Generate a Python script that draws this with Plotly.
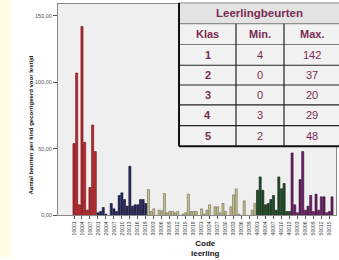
import plotly.graph_objects as go

W, H = 339, 260

klas1 = [54, 107, 8, 142, 55, 4, 21, 68, 48]
klas2 = [2, 3, 6, 1, 0, 9, 5, 3, 15, 17, 12, 7, 37, 7, 8, 8, 12, 12, 9]
klas3 = [19.5, 3, 5, 0, 4, 3.5, 16.5, 2, 3, 3, 2, 3, 0, 1, 2, 16, 3, 3, 3, 0, 5, 1, 4, 8, 0,
         6.5, 6.5, 2, 9, 3, 0, 6.5, 15.5, 20, 1, 0, 11, 0, 0, 4, 9]
klas4 = [19, 29, 19, 8, 9, 12, 15, 4, 29, 20, 24, 3, 3]
klas5 = [47, 8, 2, 27, 48, 4, 7, 15, 3, 16, 4, 14, 14, 2, 3, 14]

series = [klas1, klas2, klas3, klas4, klas5]
fills = ["#c9262c", "#25265e", "#c7c196", "#1e4a26", "#6b1f65"]
lines = ["#5a0e10", "#10102e", "#6d6a48", "#0c2410", "#350c32"]

table_header = ["Klas", "Min.", "Max."]
table_rows = [["1", "4", "142"], ["2", "0", "37"], ["3", "0", "20"], ["4", "3", "29"], ["5", "2", "48"]]
table_title = "Leerlingbeurten"

codes = []
for k, s in enumerate(series):
    for i in range(len(s)):
        codes.append(f"{k+1}{i+1:04d}")

fig = go.Figure()
idx = 0
for s, fc, lc in zip(series, fills, lines):
    xs = list(range(idx, idx + len(s)))
    fig.add_trace(go.Bar(x=xs, y=s, marker=dict(color=fc, line=dict(color=lc, width=0.6)),
                         width=0.78, showlegend=False, hoverinfo="skip"))
    idx += len(s)
n = idx

tickvals = list(range(0, n, 3))
ticktext = [codes[i] for i in tickvals]

def px(x):
    return x / W

def py(y):
    return 1 - y / H

x0p, x1p = 58, 336
y0p, y1p = 4, 218
first_c, last_c = 74, 332
pitch = (last_c - first_c) / (n - 1)
xr = [-(first_c - x0p) / pitch, (n - 1) + (x1p - last_c) / pitch]
yr_top = (y1p - y0p) / ((217 - 15) / 150)

fig.update_layout(
    width=W, height=H, margin=dict(l=0, r=0, t=0, b=0),
    paper_bgcolor="white", plot_bgcolor="#efefef",
    bargap=0,
    xaxis=dict(domain=[px(x0p), px(x1p)], range=xr, tickmode="array", tickvals=tickvals,
               ticktext=ticktext, tickangle=-90, tickfont=dict(size=5, color="#333", family="Arial"),
               ticks="outside", ticklen=3, tickcolor="#555", showgrid=False, zeroline=False,
               showline=True, linecolor="#888", mirror=True),
    yaxis=dict(domain=[py(y1p), py(y0p)], range=[0, yr_top], tickvals=[0, 50, 100, 150],
               ticktext=["0,00", "50,00", "100,00", "150,00"],
               tickfont=dict(size=5.5, color="#555", family="Arial"),
               ticks="outside", ticklen=4, tickcolor="#555", showgrid=False, zeroline=False,
               showline=True, linecolor="#888", mirror=True),
    font=dict(family="Arial"),
)

shapes = []
annotations = []
shapes.append(dict(type="rect", xref="paper", yref="paper", x0=0, x1=px(12), y0=0, y1=1,
                   fillcolor="#fffde6", line=dict(width=0), layer="below"))

tx = [179, 236, 284, 339]
ty = [3, 24, 45, 66, 86, 106, 127, 148]
shapes.append(dict(type="rect", xref="paper", yref="paper", x0=px(tx[0]), x1=px(tx[3]),
                   y0=py(ty[1]), y1=py(ty[0]), fillcolor="#e3e3e3", line=dict(width=0)))
shapes.append(dict(type="rect", xref="paper", yref="paper", x0=px(tx[0]), x1=px(tx[3]),
                   y0=py(ty[-1]), y1=py(ty[1]), fillcolor="#f2f2f2", line=dict(width=0)))
for j, yy in enumerate(ty):
    if j == 0:
        col, w = "#888", 1
    elif j in (1, 2):
        col, w = "#777", 1
    elif j == len(ty) - 1:
        col, w = "#111", 2
    else:
        col, w = "#222", 1.2
    shapes.append(dict(type="line", xref="paper", yref="paper", x0=px(tx[0]), x1=px(tx[3]),
                       y0=py(yy), y1=py(yy), line=dict(color=col, width=w)))
shapes.append(dict(type="line", xref="paper", yref="paper", x0=px(tx[0]), x1=px(tx[0]),
                   y0=py(ty[-1]), y1=py(ty[0]), line=dict(color="#111", width=2)))
for xx in tx[1:3]:
    shapes.append(dict(type="line", xref="paper", yref="paper", x0=px(xx), x1=px(xx),
                       y0=py(ty[-1]), y1=py(ty[1]), line=dict(color="#222", width=1.2)))

tcol = "#7a2b52"

def ann(x, y, text, size, color, angle=0):
    annotations.append(dict(xref="paper", yref="paper", x=x, y=y, text=text, showarrow=False,
                            xanchor="center", yanchor="middle", textangle=angle,
                            font=dict(size=size, color=color, family="Arial")))

ann(px((tx[0] + tx[3]) / 2), py((ty[0] + ty[1]) / 2), f"<b>{table_title}</b>", 11.5, tcol)
for c, h in enumerate(table_header):
    ann(px((tx[c] + tx[c + 1]) / 2), py((ty[1] + ty[2]) / 2), f"<b>{h}</b>", 11, tcol)
for r, row in enumerate(table_rows):
    for c, v in enumerate(row):
        ann(px((tx[c] + tx[c + 1]) / 2), py((ty[r + 2] + ty[r + 3]) / 2),
            f"<b>{v}</b>" if c == 0 else v, 11, tcol)

ann(px(31), py(127), "<b>Aantal beurten per kind gecorrigeerd voor lestijd</b>", 6, "#111", -90)
ann(px(205), py(251), "<b>Code<br>leerling</b>", 8, "#111")

fig.update_layout(shapes=shapes, annotations=annotations)
fig.write_html("out.html", config={"displayModeBar": False, "staticPlot": True},
               post_script="document.body.style.margin='0';document.body.style.overflow='hidden';")
